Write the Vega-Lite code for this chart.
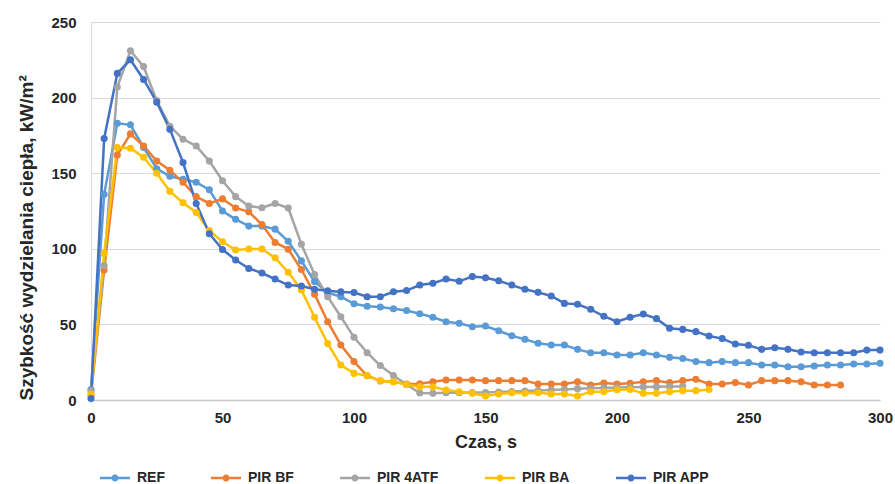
{
  "$schema": "https://vega.github.io/schema/vega-lite/v6.json",
  "width": 789,
  "height": 378,
  "autosize": {"type": "none"},
  "padding": {"left": 91, "top": 22, "right": 15, "bottom": 84},
  "background": "white",
  "config": {
    "view": {"stroke": null},
    "font": "Liberation Sans",
    "axis": {"labelFont": "Liberation Sans", "titleFont": "Liberation Sans", "labelColor": "#262626", "titleColor": "#262626"},
    "legend": {"labelFont": "Liberation Sans"}
  },
  "data": {"values": [
    {"t":0,"s":"REF","v":7},{"t":5,"s":"REF","v":136},{"t":10,"s":"REF","v":183},{"t":15,"s":"REF","v":182},{"t":20,"s":"REF","v":167},{"t":25,"s":"REF","v":153},{"t":30,"s":"REF","v":148},{"t":35,"s":"REF","v":146},{"t":40,"s":"REF","v":144},{"t":45,"s":"REF","v":139},{"t":50,"s":"REF","v":125},{"t":55,"s":"REF","v":119.5},{"t":60,"s":"REF","v":115},{"t":65,"s":"REF","v":115},{"t":70,"s":"REF","v":113},{"t":75,"s":"REF","v":105},{"t":80,"s":"REF","v":92},{"t":85,"s":"REF","v":78.3},{"t":90,"s":"REF","v":71},{"t":95,"s":"REF","v":68.3},{"t":100,"s":"REF","v":63.6},{"t":105,"s":"REF","v":62},{"t":110,"s":"REF","v":61.5},{"t":115,"s":"REF","v":60.3},{"t":120,"s":"REF","v":59.2},{"t":125,"s":"REF","v":57.1},{"t":130,"s":"REF","v":54.7},{"t":135,"s":"REF","v":51.8},{"t":140,"s":"REF","v":50.7},{"t":145,"s":"REF","v":48.5},{"t":150,"s":"REF","v":48.9},{"t":155,"s":"REF","v":45.8},{"t":160,"s":"REF","v":42.5},{"t":165,"s":"REF","v":40.1},{"t":170,"s":"REF","v":37.5},{"t":175,"s":"REF","v":36.4},{"t":180,"s":"REF","v":36.4},{"t":185,"s":"REF","v":33.5},{"t":190,"s":"REF","v":31.3},{"t":195,"s":"REF","v":31.3},{"t":200,"s":"REF","v":29.8},{"t":205,"s":"REF","v":29.8},{"t":210,"s":"REF","v":31.3},{"t":215,"s":"REF","v":29.8},{"t":220,"s":"REF","v":28.2},{"t":225,"s":"REF","v":27.5},{"t":230,"s":"REF","v":25.4},{"t":235,"s":"REF","v":24.7},{"t":240,"s":"REF","v":25.4},{"t":245,"s":"REF","v":24.7},{"t":250,"s":"REF","v":24.7},{"t":255,"s":"REF","v":23.1},{"t":260,"s":"REF","v":23.1},{"t":265,"s":"REF","v":22},{"t":270,"s":"REF","v":22},{"t":275,"s":"REF","v":22.5},{"t":280,"s":"REF","v":23.1},{"t":285,"s":"REF","v":23.1},{"t":290,"s":"REF","v":23.8},{"t":295,"s":"REF","v":23.8},{"t":300,"s":"REF","v":24.3},
    {"t":0,"s":"PIR BF","v":3},{"t":5,"s":"PIR BF","v":86},{"t":10,"s":"PIR BF","v":162},{"t":15,"s":"PIR BF","v":176},{"t":20,"s":"PIR BF","v":168},{"t":25,"s":"PIR BF","v":158},{"t":30,"s":"PIR BF","v":152},{"t":35,"s":"PIR BF","v":144},{"t":40,"s":"PIR BF","v":134.5},{"t":45,"s":"PIR BF","v":130},{"t":50,"s":"PIR BF","v":133},{"t":55,"s":"PIR BF","v":127},{"t":60,"s":"PIR BF","v":124.5},{"t":65,"s":"PIR BF","v":116},{"t":70,"s":"PIR BF","v":104.2},{"t":75,"s":"PIR BF","v":99.7},{"t":80,"s":"PIR BF","v":86.3},{"t":85,"s":"PIR BF","v":70},{"t":90,"s":"PIR BF","v":51.8},{"t":95,"s":"PIR BF","v":36.4},{"t":100,"s":"PIR BF","v":25.4},{"t":105,"s":"PIR BF","v":16},{"t":110,"s":"PIR BF","v":12.6},{"t":115,"s":"PIR BF","v":12.1},{"t":120,"s":"PIR BF","v":10.5},{"t":125,"s":"PIR BF","v":10.8},{"t":130,"s":"PIR BF","v":12.1},{"t":135,"s":"PIR BF","v":13.2},{"t":140,"s":"PIR BF","v":13.2},{"t":145,"s":"PIR BF","v":13.2},{"t":150,"s":"PIR BF","v":12.8},{"t":155,"s":"PIR BF","v":12.8},{"t":160,"s":"PIR BF","v":12.8},{"t":165,"s":"PIR BF","v":12.8},{"t":170,"s":"PIR BF","v":10.6},{"t":175,"s":"PIR BF","v":10.6},{"t":180,"s":"PIR BF","v":10.6},{"t":185,"s":"PIR BF","v":12.1},{"t":190,"s":"PIR BF","v":9.9},{"t":195,"s":"PIR BF","v":11.2},{"t":200,"s":"PIR BF","v":10.6},{"t":205,"s":"PIR BF","v":11},{"t":210,"s":"PIR BF","v":12.1},{"t":215,"s":"PIR BF","v":12.8},{"t":220,"s":"PIR BF","v":11.5},{"t":225,"s":"PIR BF","v":12.8},{"t":230,"s":"PIR BF","v":13.7},{"t":235,"s":"PIR BF","v":10.6},{"t":240,"s":"PIR BF","v":10.6},{"t":245,"s":"PIR BF","v":11.5},{"t":250,"s":"PIR BF","v":9.9},{"t":255,"s":"PIR BF","v":12.8},{"t":260,"s":"PIR BF","v":12.8},{"t":265,"s":"PIR BF","v":12.8},{"t":270,"s":"PIR BF","v":12.1},{"t":275,"s":"PIR BF","v":9.9},{"t":280,"s":"PIR BF","v":9.9},{"t":285,"s":"PIR BF","v":9.9},
    {"t":0,"s":"PIR 4ATF","v":6},{"t":5,"s":"PIR 4ATF","v":89},{"t":10,"s":"PIR 4ATF","v":207},{"t":15,"s":"PIR 4ATF","v":231},{"t":20,"s":"PIR 4ATF","v":220.5},{"t":25,"s":"PIR 4ATF","v":198},{"t":30,"s":"PIR 4ATF","v":181},{"t":35,"s":"PIR 4ATF","v":172.5},{"t":40,"s":"PIR 4ATF","v":168},{"t":45,"s":"PIR 4ATF","v":158},{"t":50,"s":"PIR 4ATF","v":145},{"t":55,"s":"PIR 4ATF","v":134.5},{"t":60,"s":"PIR 4ATF","v":128.3},{"t":65,"s":"PIR 4ATF","v":127.2},{"t":70,"s":"PIR 4ATF","v":130},{"t":75,"s":"PIR 4ATF","v":127},{"t":80,"s":"PIR 4ATF","v":103},{"t":85,"s":"PIR 4ATF","v":83},{"t":90,"s":"PIR 4ATF","v":68.3},{"t":95,"s":"PIR 4ATF","v":55.1},{"t":100,"s":"PIR 4ATF","v":41.5},{"t":105,"s":"PIR 4ATF","v":31.3},{"t":110,"s":"PIR 4ATF","v":22.8},{"t":115,"s":"PIR 4ATF","v":16.2},{"t":120,"s":"PIR 4ATF","v":10.3},{"t":125,"s":"PIR 4ATF","v":4.6},{"t":130,"s":"PIR 4ATF","v":4.4},{"t":135,"s":"PIR 4ATF","v":4.8},{"t":140,"s":"PIR 4ATF","v":4.8},{"t":145,"s":"PIR 4ATF","v":5},{"t":150,"s":"PIR 4ATF","v":5},{"t":155,"s":"PIR 4ATF","v":5.3},{"t":160,"s":"PIR 4ATF","v":5.6},{"t":165,"s":"PIR 4ATF","v":6},{"t":170,"s":"PIR 4ATF","v":6.3},{"t":175,"s":"PIR 4ATF","v":6.6},{"t":180,"s":"PIR 4ATF","v":7},{"t":185,"s":"PIR 4ATF","v":7.5},{"t":190,"s":"PIR 4ATF","v":7.8},{"t":195,"s":"PIR 4ATF","v":8},{"t":200,"s":"PIR 4ATF","v":8.2},{"t":205,"s":"PIR 4ATF","v":8.4},{"t":210,"s":"PIR 4ATF","v":8.6},{"t":215,"s":"PIR 4ATF","v":8.8},{"t":220,"s":"PIR 4ATF","v":9},{"t":225,"s":"PIR 4ATF","v":9},
    {"t":0,"s":"PIR BA","v":4},{"t":5,"s":"PIR BA","v":97},{"t":10,"s":"PIR BA","v":167},{"t":15,"s":"PIR BA","v":166.5},{"t":20,"s":"PIR BA","v":160.5},{"t":25,"s":"PIR BA","v":150},{"t":30,"s":"PIR BA","v":138},{"t":35,"s":"PIR BA","v":130.5},{"t":40,"s":"PIR BA","v":124},{"t":45,"s":"PIR BA","v":112},{"t":50,"s":"PIR BA","v":104.7},{"t":55,"s":"PIR BA","v":99.2},{"t":60,"s":"PIR BA","v":99.9},{"t":65,"s":"PIR BA","v":99.9},{"t":70,"s":"PIR BA","v":94},{"t":75,"s":"PIR BA","v":84.5},{"t":80,"s":"PIR BA","v":72.8},{"t":85,"s":"PIR BA","v":54.7},{"t":90,"s":"PIR BA","v":37.3},{"t":95,"s":"PIR BA","v":23.1},{"t":100,"s":"PIR BA","v":17.6},{"t":105,"s":"PIR BA","v":16.2},{"t":110,"s":"PIR BA","v":12.8},{"t":115,"s":"PIR BA","v":12.1},{"t":120,"s":"PIR BA","v":10.2},{"t":125,"s":"PIR BA","v":8.8},{"t":130,"s":"PIR BA","v":8.8},{"t":135,"s":"PIR BA","v":6.6},{"t":140,"s":"PIR BA","v":5.5},{"t":145,"s":"PIR BA","v":4.4},{"t":150,"s":"PIR BA","v":2.6},{"t":155,"s":"PIR BA","v":4},{"t":160,"s":"PIR BA","v":4.8},{"t":165,"s":"PIR BA","v":4.4},{"t":170,"s":"PIR BA","v":4.8},{"t":175,"s":"PIR BA","v":4},{"t":180,"s":"PIR BA","v":4},{"t":185,"s":"PIR BA","v":2.6},{"t":190,"s":"PIR BA","v":5.5},{"t":195,"s":"PIR BA","v":5.5},{"t":200,"s":"PIR BA","v":6.8},{"t":205,"s":"PIR BA","v":7},{"t":210,"s":"PIR BA","v":4.4},{"t":215,"s":"PIR BA","v":4.4},{"t":220,"s":"PIR BA","v":5.5},{"t":225,"s":"PIR BA","v":6.2},{"t":230,"s":"PIR BA","v":6.2},{"t":235,"s":"PIR BA","v":7},
    {"t":0,"s":"PIR APP","v":1},{"t":5,"s":"PIR APP","v":173},{"t":10,"s":"PIR APP","v":216},{"t":15,"s":"PIR APP","v":225},{"t":20,"s":"PIR APP","v":212},{"t":25,"s":"PIR APP","v":197},{"t":30,"s":"PIR APP","v":179},{"t":35,"s":"PIR APP","v":157},{"t":40,"s":"PIR APP","v":130},{"t":45,"s":"PIR APP","v":110},{"t":50,"s":"PIR APP","v":99.5},{"t":55,"s":"PIR APP","v":92.6},{"t":60,"s":"PIR APP","v":87},{"t":65,"s":"PIR APP","v":84},{"t":70,"s":"PIR APP","v":80},{"t":75,"s":"PIR APP","v":76},{"t":80,"s":"PIR APP","v":75.4},{"t":85,"s":"PIR APP","v":73.2},{"t":90,"s":"PIR APP","v":72.3},{"t":95,"s":"PIR APP","v":71.5},{"t":100,"s":"PIR APP","v":71.1},{"t":105,"s":"PIR APP","v":68.3},{"t":110,"s":"PIR APP","v":68.3},{"t":115,"s":"PIR APP","v":71.6},{"t":120,"s":"PIR APP","v":72.4},{"t":125,"s":"PIR APP","v":76},{"t":130,"s":"PIR APP","v":77.2},{"t":135,"s":"PIR APP","v":80},{"t":140,"s":"PIR APP","v":78.5},{"t":145,"s":"PIR APP","v":81.6},{"t":150,"s":"PIR APP","v":80.9},{"t":155,"s":"PIR APP","v":78.9},{"t":160,"s":"PIR APP","v":76},{"t":165,"s":"PIR APP","v":73.2},{"t":170,"s":"PIR APP","v":71.2},{"t":175,"s":"PIR APP","v":68.8},{"t":180,"s":"PIR APP","v":63.9},{"t":185,"s":"PIR APP","v":63.3},{"t":190,"s":"PIR APP","v":60},{"t":195,"s":"PIR APP","v":55.4},{"t":200,"s":"PIR APP","v":51.8},{"t":205,"s":"PIR APP","v":54.7},{"t":210,"s":"PIR APP","v":56.9},{"t":215,"s":"PIR APP","v":53.8},{"t":220,"s":"PIR APP","v":47.4},{"t":225,"s":"PIR APP","v":46.7},{"t":230,"s":"PIR APP","v":45.2},{"t":235,"s":"PIR APP","v":42.3},{"t":240,"s":"PIR APP","v":40.6},{"t":245,"s":"PIR APP","v":37},{"t":250,"s":"PIR APP","v":36.2},{"t":255,"s":"PIR APP","v":33.5},{"t":260,"s":"PIR APP","v":34.6},{"t":265,"s":"PIR APP","v":33.5},{"t":270,"s":"PIR APP","v":31.7},{"t":275,"s":"PIR APP","v":31.3},{"t":280,"s":"PIR APP","v":31.3},{"t":285,"s":"PIR APP","v":31.3},{"t":290,"s":"PIR APP","v":31.3},{"t":295,"s":"PIR APP","v":33},{"t":300,"s":"PIR APP","v":33}
  ]},
  "mark": {"type": "line", "strokeWidth": 2.5, "point": {"filled": true, "size": 50, "opacity": 1}},
  "encoding": {
    "x": {
      "field": "t", "type": "quantitative",
      "scale": {"domain": [0, 300], "nice": false},
      "axis": {"values": [0, 50, 100, 150, 200, 250, 300], "title": "Czas, s", "grid": false, "ticks": false, "domainColor": "#c8c8c8", "domainWidth": 1.5, "labelFontSize": 15, "labelFontWeight": "bold", "labelPadding": 10, "titleFontSize": 18, "titleFontWeight": "bold", "titlePadding": 8, "labelFlush": false}
    },
    "y": {
      "field": "v", "type": "quantitative",
      "scale": {"domain": [0, 250], "nice": false},
      "axis": {"values": [0, 50, 100, 150, 200, 250], "title": "Szybkość wydzielania ciepła, kW/m²", "grid": true, "gridColor": "#d9d9d9", "gridWidth": 1, "ticks": false, "domainColor": "#d9d9d9", "labelFontSize": 15, "labelFontWeight": "bold", "labelPadding": 15, "titleFontSize": 19, "titleFontWeight": "bold", "titlePadding": 14, "titleAnchor": "start"}
    },
    "color": {
      "field": "s", "type": "nominal",
      "scale": {"domain": ["REF", "PIR BF", "PIR 4ATF", "PIR BA", "PIR APP"], "range": ["#5B9BD5", "#ED7D31", "#A5A5A5", "#FFC000", "#4472C4"]},
      "legend": {"title": null, "orient": "none", "legendX": 14, "legendY": 446, "direction": "horizontal", "symbolType": "M-1.5,-0.12 L1.5,-0.12 L1.5,0.12 L-1.5,0.12 Z M-0.35,0 A0.35,0.35 0 1,1 0.35,0 A0.35,0.35 0 1,1 -0.35,0 Z", "symbolSize": 400, "symbolStrokeWidth": 0, "symbolOpacity": 1, "labelFontSize": 14, "labelFontWeight": "bold", "labelColor": "#262626", "labelOffset": 12, "columnPadding": 46,
        "encode": {"symbols": {"update": {"fill": {"scale": "color", "field": "value"}, "strokeWidth": {"value": 0}}}}}
    },
    "order": {"field": "t", "type": "quantitative"}
  }
}
